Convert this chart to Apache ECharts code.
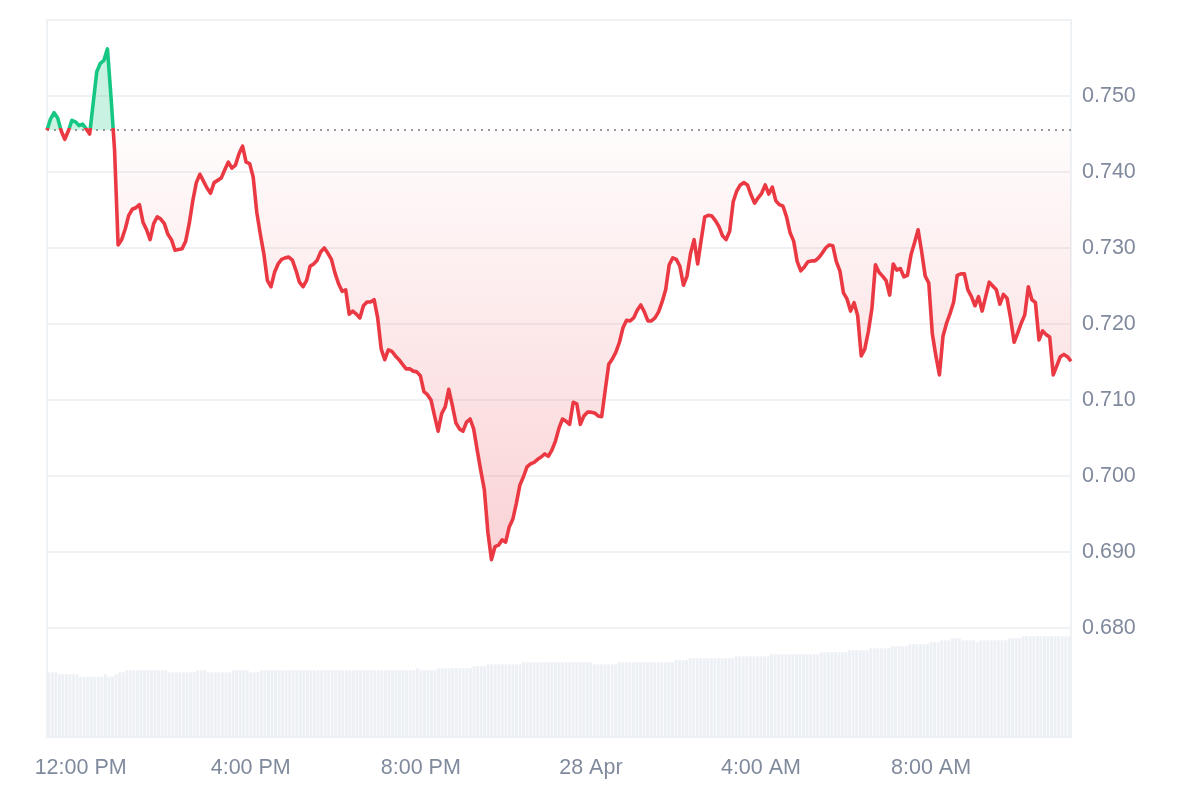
<!DOCTYPE html>
<html>
<head>
<meta charset="utf-8">
<script src="https://cdn.jsdelivr.net/npm/echarts@6/dist/echarts.min.js"></script>
<style>
  html, body { margin: 0; padding: 0; background: #ffffff; }
  #chart { width: 1200px; height: 800px; }
</style>
</head>
<body>
<div id="chart"></div>
<script>
// ---- data (5-minute steps, 27 Apr 11:15 AM -> 28 Apr 11:15 AM) ----
const startTime = Date.UTC(2025, 3, 27, 11, 15);
const stepMinutes = 5;

const price = [
  0.7455, 0.7470, 0.7478, 0.7471, 0.7454, 0.7443, 0.7454, 0.7468, 0.7466, 0.7461,
  0.7463, 0.7457, 0.7450, 0.7491, 0.7532, 0.7543, 0.7547, 0.7562, 0.7499, 0.7429,
  0.7304, 0.7311, 0.7325, 0.7343, 0.7351, 0.7353, 0.7357, 0.7334, 0.7324, 0.7311,
  0.7332, 0.7341, 0.7338, 0.7332, 0.7318, 0.7311, 0.7297, 0.7298, 0.7299, 0.7309,
  0.7332, 0.7362, 0.7386, 0.7397, 0.7388, 0.7379, 0.7372, 0.7386, 0.7389, 0.7392,
  0.7403, 0.7413, 0.7405, 0.7409, 0.7424, 0.7434, 0.7413, 0.7411, 0.7393, 0.7347,
  0.7318, 0.7292, 0.7257, 0.7249, 0.7268, 0.7279, 0.7285, 0.7287, 0.7288, 0.7284,
  0.7271, 0.7255, 0.7249, 0.7257, 0.7276, 0.7279, 0.7284, 0.7295, 0.7300, 0.7293,
  0.7285, 0.7267, 0.7253, 0.7243, 0.7245, 0.7213, 0.7217, 0.7213, 0.7208, 0.7224,
  0.7229, 0.7229, 0.7232, 0.7208, 0.7167, 0.7153, 0.7166, 0.7164, 0.7158, 0.7153,
  0.7147, 0.7141, 0.7141, 0.7138, 0.7137, 0.7132, 0.7111, 0.7107, 0.7100, 0.7079,
  0.7059, 0.7082, 0.7091, 0.7114, 0.7093, 0.7070, 0.7062, 0.7059, 0.7071, 0.7075,
  0.7062, 0.7034, 0.7007, 0.6982, 0.6926, 0.6890, 0.6907, 0.6909, 0.6916, 0.6913,
  0.6933, 0.6943, 0.6964, 0.6988, 0.6999, 0.7012, 0.7016, 0.7018, 0.7022, 0.7025,
  0.7029, 0.7026, 0.7034, 0.7046, 0.7063, 0.7075, 0.7072, 0.7068, 0.7097, 0.7095,
  0.7068, 0.7079, 0.7084, 0.7084, 0.7083, 0.7079, 0.7078, 0.7113, 0.7147, 0.7154,
  0.7163, 0.7176, 0.7195, 0.7205, 0.7204, 0.7208, 0.7218, 0.7225, 0.7216, 0.7204,
  0.7204, 0.7208, 0.7216, 0.7229, 0.7245, 0.7278, 0.7287, 0.7285, 0.7276, 0.7251,
  0.7263, 0.7293, 0.7311, 0.7279, 0.7311, 0.7341, 0.7343, 0.7342, 0.7336, 0.7328,
  0.7316, 0.7311, 0.7322, 0.7361, 0.7375, 0.7383, 0.7386, 0.7383, 0.7370, 0.7359,
  0.7366, 0.7372, 0.7383, 0.7371, 0.7380, 0.7362, 0.7357, 0.7355, 0.7341, 0.7320,
  0.7309, 0.7282, 0.7270, 0.7275, 0.7282, 0.7283, 0.7283, 0.7287, 0.7293, 0.7300,
  0.7304, 0.7303, 0.7282, 0.7270, 0.7241, 0.7233, 0.7217, 0.7228, 0.7211, 0.7158,
  0.7167, 0.7190, 0.7220, 0.7278, 0.7268, 0.7263, 0.7257, 0.7238, 0.7279, 0.7271,
  0.7273, 0.7262, 0.7264, 0.7291, 0.7307, 0.7324, 0.7295, 0.7263, 0.7254, 0.7187,
  0.7158, 0.7133, 0.7184, 0.7201, 0.7214, 0.7229, 0.7264, 0.7266, 0.7266, 0.7245,
  0.7236, 0.7224, 0.7236, 0.7217, 0.7236, 0.7255, 0.7250, 0.7245, 0.7226, 0.7239,
  0.7234, 0.7208, 0.7176, 0.7188, 0.7201, 0.7212, 0.7249, 0.7232, 0.7228, 0.7179,
  0.7191, 0.7186, 0.7183, 0.7133, 0.7145, 0.7157, 0.7160, 0.7157, 0.7151
];

const volume = [
  64.7, 64.7, 64.7, 62.7, 62.7, 62.7, 62.7, 62.7, 62.7, 60.3,
  60.3, 60.3, 60.3, 60.3, 60.3, 60.3, 62.7, 60.3, 60.3, 62.7,
  64.7, 64.7, 66.7, 66.7, 66.7, 66.7, 66.7, 66.7, 66.7, 66.7,
  66.7, 66.7, 66.7, 66.7, 64.7, 64.7, 64.7, 64.7, 64.7, 64.7,
  64.7, 64.7, 66.7, 66.7, 66.7, 64.7, 64.7, 64.7, 64.7, 64.7,
  64.7, 64.7, 66.7, 66.7, 66.7, 66.7, 66.7, 64.7, 64.7, 64.7,
  66.7, 66.7, 66.7, 66.7, 66.7, 66.7, 66.7, 66.7, 66.7, 66.7,
  66.7, 66.7, 66.7, 66.7, 66.7, 66.7, 66.7, 66.7, 66.7, 66.7,
  66.7, 66.7, 66.7, 66.7, 66.7, 66.7, 66.7, 66.7, 66.7, 66.7,
  66.7, 66.7, 66.7, 66.7, 66.7, 66.7, 66.7, 66.7, 66.7, 66.7,
  66.7, 66.7, 66.7, 66.7, 68.7, 66.7, 66.7, 66.7, 66.7, 66.7,
  68.7, 68.7, 68.7, 68.7, 68.7, 68.7, 68.7, 68.7, 68.7, 68.7,
  70.7, 70.7, 70.7, 70.7, 72.7, 72.7, 72.7, 72.7, 72.7, 72.7,
  72.7, 72.7, 72.7, 72.7, 74.7, 74.7, 74.7, 74.7, 74.7, 74.7,
  74.7, 74.7, 74.7, 74.7, 74.7, 74.7, 74.7, 74.7, 74.7, 74.7,
  74.7, 74.7, 74.7, 74.7, 72.7, 72.7, 72.7, 72.7, 72.7, 72.7,
  72.7, 74.7, 74.7, 74.7, 74.7, 74.7, 74.7, 74.7, 74.7, 74.7,
  74.7, 74.7, 74.7, 74.7, 74.7, 74.7, 74.7, 76.7, 76.7, 76.7,
  76.7, 78.7, 78.7, 78.7, 78.7, 78.7, 78.7, 78.7, 78.7, 78.7,
  78.7, 78.7, 78.7, 78.7, 80.7, 80.7, 80.7, 80.7, 80.7, 80.7,
  80.7, 80.7, 80.7, 80.7, 82.7, 82.7, 82.7, 82.7, 82.7, 82.7,
  82.7, 82.7, 82.7, 82.7, 82.7, 82.7, 82.7, 82.7, 84.7, 84.7,
  84.7, 84.7, 84.7, 84.7, 84.7, 84.7, 86.7, 86.7, 86.7, 86.7,
  86.7, 86.7, 88.7, 88.7, 88.7, 88.7, 88.7, 88.7, 90.7, 90.7,
  90.7, 90.7, 90.7, 92.7, 92.7, 92.7, 92.7, 92.7, 92.7, 94.7,
  94.7, 94.7, 96.7, 96.7, 96.7, 98.7, 98.7, 98.7, 96.7, 96.7,
  96.7, 96.7, 94.7, 96.7, 96.7, 96.7, 96.7, 96.7, 96.7, 96.7,
  96.7, 98.7, 98.7, 98.7, 98.7, 100.7, 100.7, 100.7, 100.7, 100.7,
  100.7, 100.7, 100.7, 100.7, 100.7, 100.7, 100.7, 100.7, 100.7
];

const yTickValues = [0.680, 0.690, 0.700, 0.710, 0.720, 0.730, 0.740, 0.750];
const monthNames = ['Jan','Feb','Mar','Apr','May','Jun','Jul','Aug','Sep','Oct','Nov','Dec'];

// category timestamps
const times = price.map((_, i) => startTime + i * stepMinutes * 60000);
const basePrice = price[0];

function isMajorTick(t) {
  const d = new Date(t);
  return d.getUTCMinutes() === 0 && d.getUTCHours() % 4 === 0;
}
function formatTime(t) {
  const d = new Date(t);
  const h = d.getUTCHours();
  if (h === 0) return d.getUTCDate() + ' ' + monthNames[d.getUTCMonth()];
  const h12 = h % 12 === 0 ? 12 : h % 12;
  return h12 + ':00 ' + (h < 12 ? 'AM' : 'PM');
}

const maxP = Math.max.apply(null, price);
const minP = Math.min.apply(null, price);
const f = (maxP - basePrice) / (maxP - minP);

const GREEN = '#16c784';
const RED = '#ea3943';
const GRID = '#eff2f5';
const LABEL = '#808a9d';

const chart = echarts.init(document.getElementById('chart'), null, { renderer: 'canvas' });

const splitColors = [];
for (let k = 0; k <= 10; k++) {
  const v = Math.round((0.66 + k * 0.01) * 1000) / 1000;
  splitColors.push(v < 0.675 ? 'rgba(0,0,0,0)' : GRID);
}

chart.setOption({
  animation: false,
  backgroundColor: '#ffffff',
  grid: [
    { left: 47, right: 129, top: 20, bottom: 20 },
    { left: 47, right: 129, top: 20, bottom: 63 }
  ],
  xAxis: [
    {
      gridIndex: 0, type: 'category', data: times, boundaryGap: false, show: false
    },
    {
      gridIndex: 1, type: 'category', data: times, boundaryGap: true,
      axisLine: { show: true, lineStyle: { color: GRID, width: 2 } },
      axisTick: { show: false },
      splitLine: { show: false },
      axisLabel: {
        show: true,
        interval: function (index, value) { return isMajorTick(Number(value)); },
        formatter: function (value) { return formatTime(Number(value)); },
        color: LABEL,
        fontSize: 21.5,
        fontFamily: 'Liberation Sans, Arial, sans-serif',
        margin: 20,
        hideOverlap: false
      }
    }
  ],
  yAxis: [
    {
      gridIndex: 0, type: 'value', position: 'right',
      min: 0.66, max: 0.76, interval: 0.01,
      axisLine: { show: false }, axisTick: { show: false },
      axisLabel: {
        color: LABEL, fontSize: 21.5, margin: 11,
        fontFamily: 'Liberation Sans, Arial, sans-serif',
        formatter: function (v) {
          const k = Math.round(v * 1000) / 1000;
          for (let j = 0; j < yTickValues.length; j++) {
            if (Math.abs(yTickValues[j] - k) < 1e-6) return yTickValues[j].toFixed(3);
          }
          return '';
        }
      },
      splitLine: { show: true, lineStyle: { color: splitColors, width: 2 } }
    },
    {
      gridIndex: 1, type: 'value', position: 'left', min: 0, max: 717,
      axisLine: { show: true, lineStyle: { color: GRID, width: 2 } },
      axisTick: { show: false }, axisLabel: { show: false }, splitLine: { show: false }
    },
    {
      gridIndex: 1, type: 'value', position: 'right', min: 0, max: 717,
      axisLine: { show: true, lineStyle: { color: GRID, width: 2 } },
      axisTick: { show: false }, axisLabel: { show: false }, splitLine: { show: false }
    }
  ],
  series: [
    {
      type: 'bar',
      xAxisIndex: 1, yAxisIndex: 1,
      data: volume,
      barCategoryGap: '18%',
      itemStyle: { color: '#edf0f4' },
      silent: true,
      emphasis: { disabled: true }
    },
    {
      type: 'line',
      xAxisIndex: 0, yAxisIndex: 0,
      data: price,
      showSymbol: false,
      symbol: 'none',
      smooth: false,
      silent: true,
      z: 5,
      emphasis: { disabled: true },
      lineStyle: {
        width: 3.6,
        join: 'round',
        color: {
          type: 'linear', x: 0, y: 0, x2: 0, y2: 1,
          colorStops: [
            { offset: 0, color: GREEN },
            { offset: f, color: GREEN },
            { offset: f, color: RED },
            { offset: 1, color: RED }
          ]
        }
      },
      areaStyle: {
        origin: basePrice,
        color: {
          type: 'linear', x: 0, y: 0, x2: 0, y2: 1,
          colorStops: [
            { offset: 0, color: 'rgba(22,199,132,0.34)' },
            { offset: f, color: 'rgba(22,199,132,0.32)' },
            { offset: f, color: 'rgba(234,57,67,0.02)' },
            { offset: 1, color: 'rgba(234,57,67,0.32)' }
          ]
        }
      },
      markLine: {
        silent: true,
        precision: 6,
        symbol: ['none', 'none'],
        label: { show: false },
        emphasis: { disabled: true },
        lineStyle: { type: [2, 5], color: '#999999', width: 2 },
        data: [{ yAxis: basePrice }]
      }
    }
  ]
});
</script>
</body>
</html>
